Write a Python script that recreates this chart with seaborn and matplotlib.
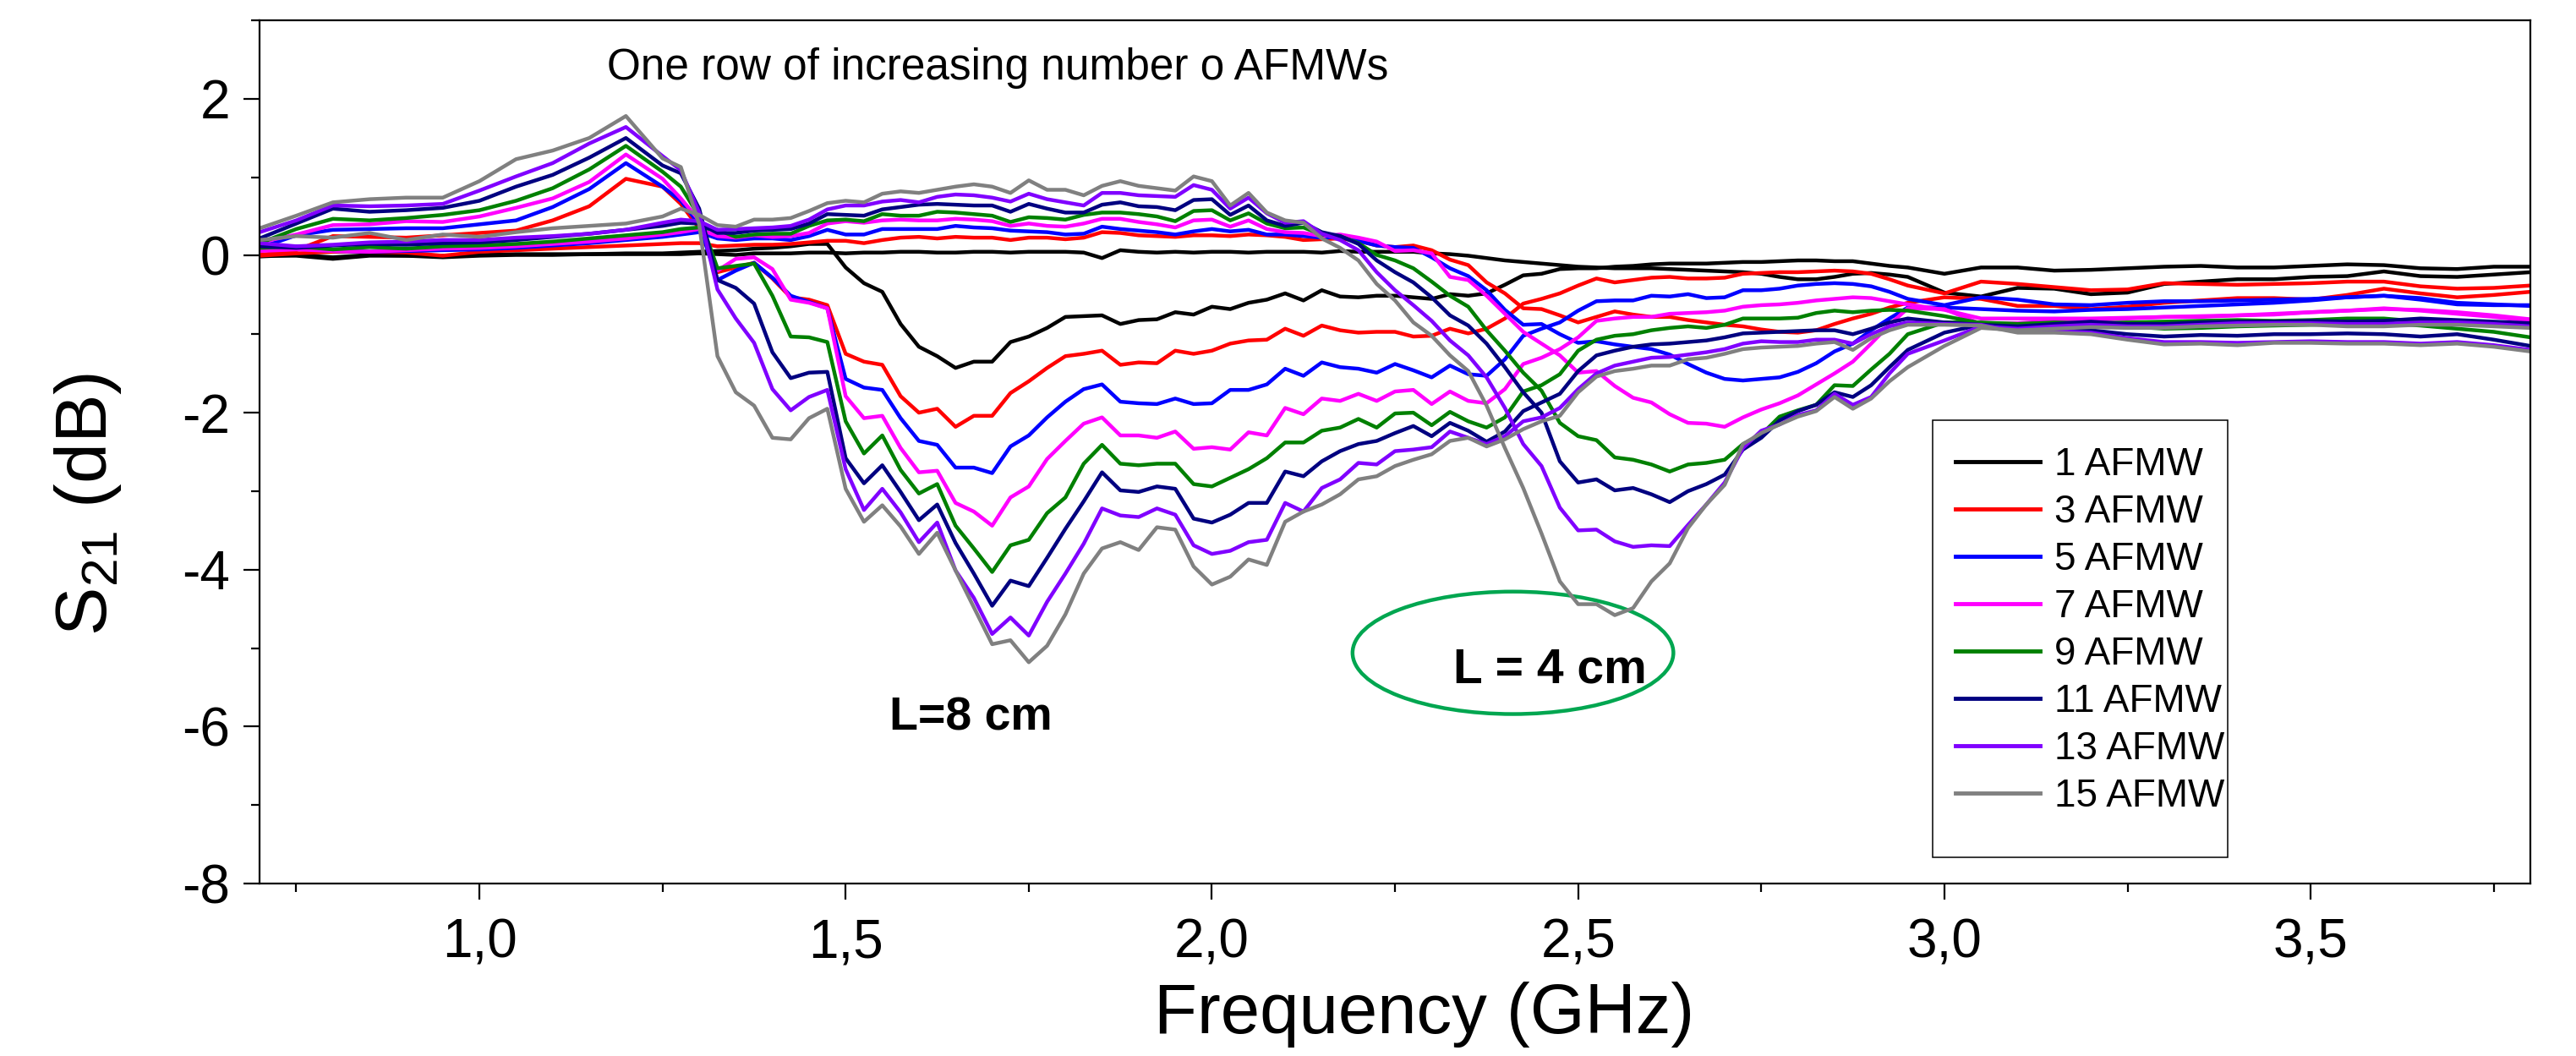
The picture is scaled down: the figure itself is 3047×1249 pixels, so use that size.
import pandas as pd
import matplotlib
matplotlib.use("Agg")
import matplotlib.pyplot as plt
from matplotlib.ticker import MultipleLocator, FuncFormatter
from matplotlib.patches import Ellipse, Rectangle
import seaborn as sns

# frequency grid (GHz)
freq = [0.70, 0.75, 0.80, 0.85, 0.90, 0.95, 1.00, 1.05, 1.10, 1.15, 1.20, 1.25, 1.275, 1.30,
        1.325, 1.35, 1.375, 1.40, 1.425, 1.45, 1.475, 1.50, 1.525, 1.55, 1.575, 1.60, 1.625, 1.65, 1.675, 1.70,
        1.725, 1.75, 1.775, 1.80, 1.825, 1.85, 1.875, 1.90, 1.925, 1.95, 1.975, 2.00, 2.025, 2.05, 2.075, 2.10,
        2.125, 2.15, 2.175, 2.20, 2.225, 2.25, 2.275, 2.30, 2.325, 2.35, 2.375, 2.40, 2.425, 2.45, 2.475, 2.50,
        2.525, 2.55, 2.575, 2.60, 2.625, 2.65, 2.675, 2.70, 2.725, 2.75, 2.775, 2.80, 2.825, 2.85, 2.875, 2.90,
        2.925, 2.95,
        3.00, 3.05, 3.10, 3.15, 3.20, 3.25, 3.30, 3.35, 3.40, 3.45, 3.50, 3.55, 3.60, 3.65, 3.70, 3.75, 3.80]

# ---- L = 8 cm rows (dip around 1.7 GHz) ----
l8_n1 = [0.00, 0.00, -0.04, 0.00, 0.00, -0.02, 0.00, 0.01, 0.01, 0.02, 0.03, 0.03, 0.04, 0.05,
         0.06, 0.07, 0.09, 0.10, 0.12, 0.15, 0.15, -0.15, -0.35, -0.46, -0.87, -1.16, -1.28, -1.43, -1.35, -1.35,
         -1.10, -1.03, -0.92, -0.78, -0.77, -0.76, -0.87, -0.82, -0.81, -0.72, -0.75, -0.65, -0.68, -0.60, -0.56, -0.48,
         -0.57, -0.44, -0.52, -0.53, -0.51, -0.51, -0.53, -0.55, -0.49, -0.51, -0.48, -0.37, -0.25, -0.23, -0.17, -0.16,
         -0.16, -0.14, -0.13, -0.11, -0.10, -0.10, -0.10, -0.09, -0.08, -0.08, -0.07, -0.06, -0.06, -0.07, -0.07, -0.10,
         -0.13, -0.15,
         -0.23, -0.15, -0.15, -0.19, -0.18, -0.16, -0.14, -0.13, -0.15, -0.15, -0.13, -0.11, -0.12, -0.16, -0.17, -0.14, -0.14]
l8_n3 = [0.01, 0.07, 0.25, 0.24, 0.23, 0.26, 0.29, 0.32, 0.45, 0.63, 0.98, 0.88, 0.66, 0.35,
         -0.21, -0.15, -0.09, -0.29, -0.53, -0.56, -0.63, -1.25, -1.35, -1.39, -1.79, -2.00, -1.95, -2.18, -2.04, -2.04,
         -1.75, -1.60, -1.43, -1.28, -1.25, -1.21, -1.39, -1.36, -1.37, -1.21, -1.25, -1.21, -1.12, -1.08, -1.07, -0.93,
         -1.02, -0.89, -0.95, -0.98, -0.97, -0.97, -1.03, -1.02, -0.93, -0.99, -0.93, -0.80, -0.61, -0.55, -0.48, -0.38,
         -0.29, -0.34, -0.31, -0.28, -0.27, -0.29, -0.29, -0.28, -0.23, -0.22, -0.21, -0.21, -0.20, -0.19, -0.20, -0.23,
         -0.30, -0.38,
         -0.48, -0.33, -0.36, -0.40, -0.44, -0.43, -0.35, -0.36, -0.37, -0.36, -0.35, -0.33, -0.33, -0.39, -0.42, -0.41, -0.38]
l8_n5 = [0.10, 0.26, 0.33, 0.34, 0.35, 0.35, 0.40, 0.45, 0.62, 0.85, 1.18, 0.88, 0.70, 0.40,
         -0.31, -0.19, -0.09, -0.28, -0.51, -0.59, -0.67, -1.57, -1.68, -1.71, -2.07, -2.36, -2.41, -2.70, -2.70, -2.77,
         -2.43, -2.29, -2.06, -1.86, -1.70, -1.64, -1.86, -1.88, -1.89, -1.82, -1.89, -1.88, -1.71, -1.71, -1.64, -1.44,
         -1.53, -1.36, -1.42, -1.44, -1.49, -1.38, -1.46, -1.55, -1.40, -1.51, -1.53, -1.32, -1.02, -0.93, -0.85, -0.70,
         -0.58, -0.57, -0.57, -0.51, -0.52, -0.49, -0.54, -0.53, -0.44, -0.44, -0.42, -0.38, -0.36, -0.35, -0.36, -0.39,
         -0.46, -0.55,
         -0.63, -0.53, -0.56, -0.62, -0.63, -0.60, -0.58, -0.58, -0.57, -0.56, -0.55, -0.53, -0.51, -0.56, -0.62, -0.63, -0.63]
l8_n7 = [0.17, 0.27, 0.39, 0.40, 0.44, 0.43, 0.50, 0.61, 0.73, 0.94, 1.29, 0.98, 0.73, 0.45,
         -0.19, -0.04, -0.02, -0.17, -0.56, -0.60, -0.67, -1.79, -2.07, -2.04, -2.45, -2.76, -2.74, -3.15, -3.26, -3.44,
         -3.08, -2.94, -2.59, -2.36, -2.14, -2.06, -2.29, -2.29, -2.32, -2.24, -2.46, -2.44, -2.47, -2.25, -2.29, -1.94,
         -2.02, -1.82, -1.85, -1.76, -1.85, -1.73, -1.71, -1.89, -1.73, -1.85, -1.88, -1.70, -1.38, -1.30, -1.19, -1.04,
         -0.83, -0.80, -0.78, -0.78, -0.74, -0.73, -0.72, -0.70, -0.65, -0.63, -0.62, -0.60, -0.57, -0.55, -0.53, -0.54,
         -0.58, -0.62,
         -0.69, -0.80, -0.80, -0.80, -0.80, -0.79, -0.78, -0.78, -0.76, -0.74, -0.72, -0.70, -0.67, -0.70, -0.74, -0.78, -0.83]
l8_n9 = [0.16, 0.34, 0.47, 0.45, 0.48, 0.52, 0.58, 0.70, 0.86, 1.10, 1.40, 1.07, 0.88, 0.50,
         -0.16, -0.13, -0.10, -0.51, -1.03, -1.04, -1.10, -2.11, -2.52, -2.29, -2.73, -3.03, -2.91, -3.44, -3.73, -4.03,
         -3.69, -3.62, -3.28, -3.08, -2.65, -2.41, -2.65, -2.67, -2.65, -2.65, -2.91, -2.94, -2.83, -2.72, -2.58, -2.38,
         -2.38, -2.23, -2.19, -2.08, -2.19, -2.01, -2.00, -2.16, -1.99, -2.11, -2.19, -2.06, -1.73, -1.65, -1.51, -1.21,
         -1.07, -1.02, -1.00, -0.95, -0.92, -0.90, -0.92, -0.88, -0.80, -0.80, -0.80, -0.79, -0.73, -0.70, -0.72, -0.70,
         -0.69, -0.70,
         -0.77, -0.86, -0.87, -0.86, -0.88, -0.90, -0.93, -0.92, -0.90, -0.89, -0.88, -0.87, -0.86, -0.89, -0.93, -0.97, -1.04]
l8_n11 = [0.22, 0.41, 0.60, 0.56, 0.58, 0.61, 0.70, 0.88, 1.03, 1.25, 1.50, 1.15, 1.05, 0.60,
          -0.31, -0.41, -0.61, -1.23, -1.56, -1.49, -1.48, -2.58, -2.90, -2.67, -3.01, -3.37, -3.17, -3.66, -4.05, -4.46,
          -4.14, -4.21, -3.85, -3.48, -3.13, -2.76, -2.99, -3.01, -2.94, -2.97, -3.35, -3.40, -3.30, -3.15, -3.15, -2.75,
          -2.81, -2.62, -2.49, -2.40, -2.36, -2.26, -2.17, -2.30, -2.13, -2.23, -2.37, -2.24, -1.98, -1.87, -1.76, -1.47,
          -1.27, -1.21, -1.16, -1.13, -1.12, -1.10, -1.08, -1.04, -0.99, -0.98, -0.97, -0.96, -0.95, -0.95, -1.00, -0.93,
          -0.85, -0.80,
          -0.85, -0.88, -0.95, -0.93, -0.95, -1.00, -1.03, -1.01, -1.02, -1.00, -1.00, -0.99, -1.00, -1.03, -1.00, -1.07, -1.15]
l8_n13 = [0.30, 0.45, 0.64, 0.63, 0.64, 0.66, 0.83, 1.01, 1.18, 1.43, 1.64, 1.27, 1.09, 0.55,
          -0.43, -0.80, -1.11, -1.70, -1.97, -1.80, -1.71, -2.72, -3.24, -2.97, -3.27, -3.65, -3.40, -4.01, -4.36, -4.82,
          -4.61, -4.84, -4.41, -4.05, -3.67, -3.22, -3.31, -3.33, -3.22, -3.30, -3.69, -3.80, -3.76, -3.65, -3.62, -3.15,
          -3.26, -2.96, -2.85, -2.64, -2.66, -2.49, -2.47, -2.44, -2.24, -2.32, -2.40, -2.30, -2.11, -2.06, -1.94, -1.70,
          -1.50, -1.40, -1.35, -1.30, -1.29, -1.26, -1.23, -1.19, -1.12, -1.09, -1.10, -1.10, -1.07, -1.07, -1.12, -1.00,
          -0.90, -0.85,
          -0.87, -0.88, -0.97, -0.96, -0.98, -1.05, -1.10, -1.10, -1.11, -1.10, -1.09, -1.10, -1.10, -1.12, -1.10, -1.14, -1.20]
l8_n15 = [0.35, 0.51, 0.68, 0.72, 0.74, 0.74, 0.95, 1.23, 1.34, 1.50, 1.78, 1.24, 1.13, 0.40,
          -1.28, -1.74, -1.91, -2.32, -2.34, -2.07, -1.95, -2.97, -3.39, -3.18, -3.45, -3.80, -3.53, -4.01, -4.48, -4.95,
          -4.90, -5.18, -4.97, -4.57, -4.05, -3.73, -3.65, -3.75, -3.46, -3.49, -3.96, -4.19, -4.09, -3.87, -3.94, -3.39,
          -3.26, -3.17, -3.04, -2.85, -2.81, -2.68, -2.60, -2.53, -2.36, -2.32, -2.43, -2.34, -2.21, -2.11, -2.04, -1.74,
          -1.54, -1.47, -1.44, -1.40, -1.40, -1.32, -1.30, -1.25, -1.19, -1.17, -1.16, -1.15, -1.12, -1.10, -1.20, -1.05,
          -0.95, -0.88,
          -0.88, -0.89, -0.98, -0.98, -1.00, -1.07, -1.13, -1.12, -1.14, -1.11, -1.11, -1.12, -1.12, -1.14, -1.12, -1.16, -1.22]

# ---- L = 4 cm rows (dip around 2.55 GHz) ----
l4_n1 = [-0.01, 0.01, -0.02, 0.01, 0.00, 0.00, 0.01, 0.02, 0.02, 0.02, 0.02, 0.02, 0.02, 0.03,
         0.02, 0.01, 0.03, 0.03, 0.03, 0.04, 0.04, 0.03, 0.04, 0.04, 0.05, 0.05, 0.04, 0.04, 0.05, 0.05,
         0.04, 0.05, 0.05, 0.05, 0.04, -0.03, 0.07, 0.05, 0.04, 0.05, 0.04, 0.05, 0.05, 0.04, 0.05, 0.05,
         0.05, 0.04, 0.06, 0.05, 0.05, 0.05, 0.05, 0.03, 0.02, 0.00, -0.03, -0.06, -0.08, -0.10, -0.12, -0.14,
         -0.15, -0.16, -0.16, -0.16, -0.17, -0.18, -0.19, -0.20, -0.21, -0.23, -0.27, -0.30, -0.30, -0.27, -0.23, -0.22,
         -0.24, -0.27,
         -0.47, -0.52, -0.41, -0.42, -0.49, -0.47, -0.36, -0.33, -0.30, -0.30, -0.27, -0.26, -0.20, -0.26, -0.27, -0.24, -0.21]
l4_n3 = [0.00, 0.03, 0.05, 0.05, 0.04, 0.00, 0.05, 0.07, 0.09, 0.11, 0.13, 0.15, 0.16, 0.16,
         0.12, 0.13, 0.14, 0.14, 0.15, 0.17, 0.19, 0.19, 0.16, 0.20, 0.23, 0.24, 0.22, 0.24, 0.23, 0.23,
         0.20, 0.23, 0.23, 0.21, 0.23, 0.30, 0.29, 0.26, 0.25, 0.24, 0.26, 0.26, 0.25, 0.27, 0.26, 0.24,
         0.20, 0.21, 0.22, 0.19, 0.13, 0.11, 0.13, 0.07, -0.05, -0.12, -0.34, -0.48, -0.67, -0.68, -0.76, -0.85,
         -0.78, -0.71, -0.75, -0.78, -0.78, -0.82, -0.85, -0.88, -0.90, -0.94, -0.97, -0.98, -0.95, -0.87, -0.80, -0.74,
         -0.66, -0.60,
         -0.53, -0.55, -0.64, -0.64, -0.68, -0.65, -0.60, -0.57, -0.54, -0.54, -0.56, -0.50, -0.42, -0.48, -0.53, -0.50, -0.46]
l4_n5 = [0.10, 0.09, 0.06, 0.05, 0.06, 0.07, 0.08, 0.10, 0.13, 0.16, 0.20, 0.24, 0.27, 0.30,
         0.22, 0.20, 0.22, 0.22, 0.20, 0.25, 0.33, 0.27, 0.27, 0.34, 0.34, 0.34, 0.34, 0.38, 0.36, 0.35,
         0.32, 0.31, 0.30, 0.27, 0.28, 0.37, 0.34, 0.32, 0.30, 0.27, 0.31, 0.34, 0.31, 0.33, 0.27, 0.27,
         0.25, 0.23, 0.24, 0.19, 0.13, 0.11, 0.10, -0.02, -0.16, -0.26, -0.44, -0.69, -0.88, -0.87, -1.00, -1.11,
         -1.09, -1.13, -1.16, -1.19, -1.26, -1.38, -1.49, -1.57, -1.59, -1.57, -1.55, -1.48, -1.37, -1.22, -1.12, -0.95,
         -0.80, -0.66,
         -0.66, -0.68, -0.70, -0.71, -0.69, -0.68, -0.66, -0.64, -0.62, -0.60, -0.57, -0.53, -0.51, -0.54, -0.60, -0.62, -0.64]
l4_n7 = [0.06, 0.08, 0.06, 0.05, 0.07, 0.09, 0.10, 0.12, 0.15, 0.18, 0.22, 0.27, 0.30, 0.34,
         0.25, 0.23, 0.26, 0.24, 0.25, 0.29, 0.41, 0.44, 0.42, 0.45, 0.46, 0.45, 0.45, 0.47, 0.46, 0.44,
         0.38, 0.41, 0.38, 0.37, 0.41, 0.47, 0.47, 0.43, 0.40, 0.36, 0.45, 0.46, 0.37, 0.45, 0.34, 0.30,
         0.29, 0.25, 0.27, 0.23, 0.18, 0.06, 0.07, 0.03, -0.27, -0.31, -0.51, -0.74, -0.97, -1.12, -1.27, -1.49,
         -1.47, -1.66, -1.81, -1.87, -2.02, -2.13, -2.14, -2.18, -2.06, -1.96, -1.88, -1.78, -1.64, -1.50, -1.35, -1.12,
         -0.88, -0.67,
         -0.68, -0.87, -0.86, -0.83, -0.82, -0.80, -0.78, -0.77, -0.76, -0.75, -0.72, -0.70, -0.68, -0.69, -0.72, -0.76, -0.81]
l4_n9 = [0.10, 0.12, 0.08, 0.11, 0.09, 0.12, 0.13, 0.15, 0.18, 0.22, 0.26, 0.30, 0.34, 0.36,
         0.33, 0.24, 0.27, 0.28, 0.28, 0.38, 0.45, 0.46, 0.44, 0.53, 0.51, 0.51, 0.56, 0.55, 0.53, 0.51,
         0.43, 0.49, 0.48, 0.46, 0.52, 0.55, 0.55, 0.53, 0.50, 0.44, 0.57, 0.58, 0.45, 0.54, 0.41, 0.35,
         0.36, 0.27, 0.25, 0.16, 0.01, -0.06, -0.16, -0.33, -0.51, -0.65, -0.95, -1.21, -1.49, -1.72, -2.13, -2.30,
         -2.35, -2.57, -2.60, -2.66, -2.75, -2.66, -2.64, -2.60, -2.40, -2.28, -2.05, -1.97, -1.90, -1.65, -1.66, -1.45,
         -1.25, -1.00,
         -0.85, -0.85, -0.87, -0.85, -0.86, -0.85, -0.84, -0.83, -0.82, -0.83, -0.82, -0.80, -0.80, -0.84, -0.86, -0.87, -0.89]
l4_n11 = [0.12, 0.10, 0.13, 0.15, 0.14, 0.16, 0.17, 0.20, 0.24, 0.28, 0.33, 0.38, 0.42, 0.41,
          0.29, 0.29, 0.32, 0.33, 0.34, 0.41, 0.53, 0.52, 0.51, 0.59, 0.62, 0.65, 0.66, 0.65, 0.64, 0.64,
          0.56, 0.66, 0.60, 0.55, 0.55, 0.65, 0.68, 0.63, 0.62, 0.58, 0.71, 0.72, 0.52, 0.64, 0.45, 0.38,
          0.42, 0.30, 0.25, 0.15, -0.06, -0.21, -0.34, -0.53, -0.76, -0.89, -1.12, -1.42, -1.74, -2.00, -2.62, -2.89,
          -2.85, -2.99, -2.96, -3.04, -3.14, -3.00, -2.91, -2.79, -2.47, -2.32, -2.10, -1.98, -1.90, -1.74, -1.80, -1.65,
          -1.42, -1.20,
          -0.98, -0.88, -0.90, -0.87, -0.84, -0.87, -0.87, -0.85, -0.84, -0.84, -0.83, -0.84, -0.83, -0.80, -0.82, -0.84, -0.86]
l4_n13 = [0.16, 0.12, 0.14, 0.17, 0.18, 0.20, 0.20, 0.23, 0.25, 0.28, 0.33, 0.42, 0.46, 0.44,
          0.33, 0.34, 0.35, 0.36, 0.38, 0.46, 0.59, 0.64, 0.64, 0.69, 0.71, 0.68, 0.75, 0.78, 0.77, 0.74,
          0.69, 0.79, 0.72, 0.68, 0.64, 0.80, 0.80, 0.77, 0.76, 0.75, 0.90, 0.84, 0.60, 0.74, 0.54, 0.42,
          0.44, 0.28, 0.20, 0.07, -0.21, -0.44, -0.63, -0.83, -1.08, -1.27, -1.55, -1.94, -2.40, -2.68, -3.21, -3.50,
          -3.49, -3.64, -3.71, -3.69, -3.70, -3.43, -3.17, -2.89, -2.45, -2.23, -2.15, -2.03, -1.97, -1.76, -1.90, -1.80,
          -1.50, -1.25,
          -1.08, -0.90, -0.93, -0.90, -0.88, -0.90, -0.90, -0.88, -0.86, -0.86, -0.86, -0.87, -0.87, -0.85, -0.85, -0.87, -0.90]
l4_n15 = [0.20, 0.25, 0.23, 0.29, 0.20, 0.27, 0.24, 0.30, 0.35, 0.38, 0.41, 0.50, 0.60, 0.52,
          0.39, 0.37, 0.46, 0.46, 0.48, 0.57, 0.67, 0.70, 0.68, 0.79, 0.82, 0.80, 0.84, 0.88, 0.91, 0.88,
          0.80, 0.96, 0.84, 0.84, 0.77, 0.89, 0.95, 0.89, 0.86, 0.83, 1.01, 0.95, 0.64, 0.80, 0.55, 0.45,
          0.42, 0.22, 0.10, -0.06, -0.36, -0.57, -0.85, -1.02, -1.27, -1.47, -1.91, -2.45, -2.96, -3.54, -4.15, -4.44,
          -4.44, -4.58, -4.49, -4.15, -3.92, -3.47, -3.17, -2.92, -2.40, -2.26, -2.15, -2.05, -1.98, -1.80, -1.95, -1.82,
          -1.60, -1.42,
          -1.15, -0.92, -0.95, -0.93, -0.91, -0.92, -0.92, -0.90, -0.89, -0.88, -0.88, -0.90, -0.90, -0.88, -0.88, -0.90, -0.92]

labels = ["1 AFMW", "3 AFMW", "5 AFMW", "7 AFMW", "9 AFMW", "11 AFMW", "13 AFMW", "15 AFMW"]
colors = ["#000000", "#FF0000", "#0000FF", "#FF00FF", "#008000", "#000080", "#8000FF", "#808080"]
rows_8cm = [l8_n1, l8_n3, l8_n5, l8_n7, l8_n9, l8_n11, l8_n13, l8_n15]
rows_4cm = [l4_n1, l4_n3, l4_n5, l4_n7, l4_n9, l4_n11, l4_n13, l4_n15]

records = []
for lab, a, b in zip(labels, rows_8cm, rows_4cm):
    assert len(a) == len(freq) and len(b) == len(freq), lab
    for f, v in zip(freq, a):
        records.append((lab, "8 cm", f, v))
    for f, v in zip(freq, b):
        records.append((lab, "4 cm", f, v))
df = pd.DataFrame(records, columns=["afmw", "length", "freq", "s21"])

plt.rcParams["font.family"] = ["Liberation Sans", "DejaVu Sans"]
plt.rcParams["mathtext.default"] = "regular"
plt.rcParams["axes.unicode_minus"] = False

fig = plt.figure(figsize=(30.47, 12.49), dpi=100)
ax = fig.add_axes([0.1008, 0.1633, 0.8815, 0.8175])

sns.lineplot(data=df, x="freq", y="s21", hue="afmw", hue_order=labels,
             palette=dict(zip(labels, colors)), units="length", estimator=None,
             sort=False, linewidth=3.2, ax=ax)

ax.set_xlim(0.7, 3.8)
ax.set_ylim(-8, 3)
ax.xaxis.set_major_locator(MultipleLocator(0.5))
ax.xaxis.set_minor_locator(MultipleLocator(0.25))
ax.yaxis.set_major_locator(MultipleLocator(2))
ax.yaxis.set_minor_locator(MultipleLocator(1))
ax.xaxis.set_major_formatter(FuncFormatter(lambda v, p: f"{v:.1f}".replace(".", ",")))
ax.yaxis.set_major_formatter(FuncFormatter(lambda v, p: f"{int(round(v))}"))
ax.tick_params(which="major", direction="out", length=14, width=1.6, labelsize=46)
ax.tick_params(axis="x", which="major", pad=15)
ax.tick_params(axis="y", which="major", pad=11)
ax.tick_params(which="minor", direction="out", length=7.5, width=1.6)
for s in ax.spines.values():
    s.set_linewidth(1.6)
    s.set_color("black")

ax.set_xlabel("Frequency (GHz)", fontsize=60, va="baseline")
ax.xaxis.set_label_coords(0.513, -0.173)
ax.set_ylabel("S$_{21}$ (dB)", fontsize=62)
ax.yaxis.set_label_coords(-0.060, 0.439)

# annotations
ax.text(1.174, 2.25, "One row of increasing number o AFMWs", fontsize=37,
        ha="left", va="baseline")
ax.text(1.56, -6.04, "L=8 cm", fontsize=40, fontweight="bold", ha="left", va="baseline")
ax.text(2.329, -5.44, "L = 4 cm", fontsize=41, fontweight="bold", ha="left", va="baseline")
ax.add_patch(Ellipse((2.411, -5.06), 0.438, 1.56, fill=False, edgecolor="#00A650", linewidth=3.2))

# legend
handles, labs = ax.get_legend_handles_labels()
leg = ax.legend(handles, labs, loc="upper left", bbox_to_anchor=(0.7468, 0.506),
                frameon=False, fontsize=33, borderpad=0, borderaxespad=0,
                handlelength=2.18, handletextpad=0.37, labelspacing=0.26)
for ln in leg.get_lines():
    ln.set_linewidth(3.5)
ax.add_patch(Rectangle((0.7368, 0.0304), 0.1299, 0.5063, transform=ax.transAxes,
                       fill=False, edgecolor="black", linewidth=1.1))

fig.savefig("out.png", dpi=100)
